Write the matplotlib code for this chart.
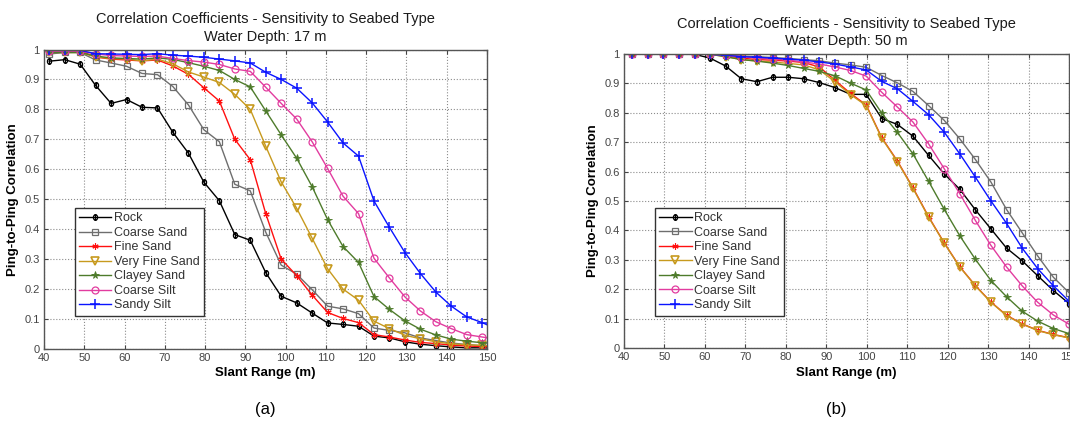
import numpy as np
import matplotlib.pyplot as plt
from matplotlib.path import Path

plt.rcParams['font.family'] = ['Liberation Sans', 'DejaVu Sans']

# slant range sample positions (m)
range_17 = 41.3 + 3.84 * np.arange(30)
range_50 = np.linspace(42.0, 150.0, 29)

# water depth 17 m
rock_17 = [0.961, 0.966, 0.951, 0.880, 0.820, 0.833, 0.807, 0.805, 0.723, 0.654,
           0.557, 0.495, 0.382, 0.363, 0.255, 0.176, 0.154, 0.120, 0.087, 0.082,
           0.076, 0.043, 0.037, 0.024, 0.016, 0.011, 0.007, 0.004, 0.004, 0.003]
coarse_sand_17 = [0.985, 0.990, 0.990, 0.965, 0.955, 0.944, 0.920, 0.916, 0.876, 0.815,
                  0.732, 0.692, 0.550, 0.528, 0.390, 0.280, 0.250, 0.198, 0.143, 0.134,
                  0.118, 0.070, 0.062, 0.054, 0.037, 0.028, 0.020, 0.015, 0.011, 0.009]
fine_sand_17 = [0.995, 0.995, 0.995, 0.975, 0.968, 0.965, 0.962, 0.965, 0.945, 0.917,
                0.872, 0.828, 0.700, 0.632, 0.452, 0.300, 0.245, 0.180, 0.122, 0.102,
                0.088, 0.048, 0.040, 0.030, 0.022, 0.018, 0.013, 0.010, 0.008, 0.007]
very_fine_sand_17 = [0.990, 0.990, 0.990, 0.975, 0.970, 0.968, 0.962, 0.968, 0.952, 0.925,
                     0.908, 0.890, 0.850, 0.800, 0.677, 0.558, 0.470, 0.370, 0.268, 0.200,
                     0.163, 0.093, 0.068, 0.046, 0.034, 0.024, 0.017, 0.014, 0.012, 0.010]
clayey_sand_17 = [0.990, 0.990, 0.990, 0.978, 0.972, 0.970, 0.968, 0.972, 0.967, 0.956,
                  0.944, 0.930, 0.900, 0.875, 0.795, 0.715, 0.637, 0.542, 0.432, 0.342,
                  0.289, 0.175, 0.132, 0.094, 0.066, 0.047, 0.033, 0.026, 0.021, 0.017]
coarse_silt_17 = [0.995, 0.995, 0.995, 0.985, 0.980, 0.978, 0.977, 0.978, 0.970, 0.963,
                  0.958, 0.950, 0.935, 0.927, 0.874, 0.820, 0.768, 0.692, 0.603, 0.510,
                  0.452, 0.303, 0.237, 0.174, 0.127, 0.091, 0.068, 0.048, 0.040, 0.032]
sandy_silt_17 = [0.997, 0.997, 0.997, 0.986, 0.985, 0.984, 0.983, 0.986, 0.981, 0.978,
                 0.974, 0.968, 0.962, 0.955, 0.924, 0.900, 0.871, 0.822, 0.758, 0.688,
                 0.644, 0.494, 0.406, 0.322, 0.252, 0.190, 0.143, 0.107, 0.088, 0.065]

# water depth 50 m
rock_50 = [0.998, 0.998, 0.998, 0.998, 0.998, 0.985, 0.958, 0.915, 0.905, 0.920,
           0.920, 0.915, 0.902, 0.885, 0.862, 0.862, 0.780, 0.760, 0.720, 0.655,
           0.592, 0.540, 0.470, 0.405, 0.340, 0.297, 0.246, 0.196, 0.152]
coarse_sand_50 = [0.998, 0.998, 0.998, 0.998, 0.998, 0.998, 0.996, 0.992, 0.990, 0.987,
                  0.984, 0.980, 0.976, 0.968, 0.962, 0.954, 0.926, 0.901, 0.872, 0.824,
                  0.774, 0.711, 0.641, 0.564, 0.471, 0.392, 0.313, 0.241, 0.189]
fine_sand_50 = [0.998, 0.998, 0.998, 0.998, 0.998, 0.998, 0.992, 0.985, 0.980, 0.978,
                0.975, 0.970, 0.955, 0.910, 0.865, 0.826, 0.715, 0.636, 0.545, 0.447,
                0.358, 0.277, 0.213, 0.157, 0.112, 0.083, 0.061, 0.047, 0.036]
very_fine_sand_50 = [0.998, 0.998, 0.998, 0.998, 0.998, 0.998, 0.990, 0.980, 0.975, 0.972,
                     0.967, 0.962, 0.945, 0.905, 0.861, 0.824, 0.713, 0.634, 0.543, 0.445,
                     0.357, 0.276, 0.212, 0.156, 0.111, 0.082, 0.060, 0.046, 0.035]
clayey_sand_50 = [0.998, 0.998, 0.998, 0.998, 0.998, 0.998, 0.990, 0.980, 0.975, 0.968,
                  0.960, 0.950, 0.940, 0.925, 0.900, 0.877, 0.798, 0.733, 0.660, 0.567,
                  0.472, 0.382, 0.302, 0.230, 0.175, 0.126, 0.092, 0.067, 0.050]
coarse_silt_50 = [0.998, 0.998, 0.998, 0.998, 0.998, 0.998, 0.995, 0.990, 0.985, 0.982,
                  0.978, 0.972, 0.965, 0.955, 0.943, 0.924, 0.869, 0.819, 0.768, 0.694,
                  0.610, 0.525, 0.434, 0.349, 0.276, 0.212, 0.156, 0.113, 0.082]
sandy_silt_50 = [0.998, 0.998, 0.998, 0.998, 0.998, 0.998, 0.995, 0.990, 0.988, 0.985,
                 0.982, 0.978, 0.972, 0.965, 0.955, 0.945, 0.906, 0.881, 0.838, 0.793,
                 0.734, 0.660, 0.581, 0.500, 0.424, 0.340, 0.270, 0.212, 0.160]

seabeds = ['Rock', 'Coarse Sand', 'Fine Sand', 'Very Fine Sand',
           'Clayey Sand', 'Coarse Silt', 'Sandy Silt']

# circle with a vertical bar through it, for the rock curve
ring = Path.unit_circle()
ring = Path(ring.vertices * [0.75, 1.0], ring.codes)
bar = Path([(0, -1.25), (0, 1.25)], [Path.MOVETO, Path.LINETO])
rock_marker = Path.make_compound_path(ring, bar)

styles = [
    dict(color='black', marker=rock_marker, ms=5, mfc='none', mew=0.9),
    dict(color='#6e6e6e', marker='s', ms=5, mfc='none', mew=0.9),
    dict(color='#ff1010', marker=(6, 2, 0), ms=4.5, mew=0.8),
    dict(color='#c79a1e', marker='v', ms=6, mfc='none', mew=1.2),
    dict(color='#4e7b2b', marker='*', ms=5.5, mew=0.6),
    dict(color='#e23c9f', marker='o', ms=5, mfc='none', mew=0.9),
    dict(color='#0a14ff', marker='+', ms=7, mew=1.1),
]


def draw_panel(ax, x, series, depth):
    for name, y, st in zip(seabeds, series, styles):
        ax.plot(x, y, lw=1.0, label=name, **st)
    ax.set_xlim(40, 150)
    ax.set_ylim(0, 1)
    ax.set_xticks(np.arange(40, 151, 10))
    ax.set_yticks(np.arange(0, 1.01, 0.1))
    ax.set_yticklabels(['0', '0.1', '0.2', '0.3', '0.4', '0.5',
                        '0.6', '0.7', '0.8', '0.9', '1'])
    ax.grid(True, linestyle=':', color='#8c8c8c', linewidth=0.8)
    ax.tick_params(direction='in', length=3, labelsize=8, colors='#444444',
                   top=True, right=True, pad=3)
    for sp in ax.spines.values():
        sp.set_color('#555555')
        sp.set_linewidth(1.0)
    ax.set_title('Correlation Coefficients - Sensitivity to Seabed Type\n'
                 'Water Depth: %d m' % depth, fontsize=10.5, color='#1a1a1a',
                 linespacing=1.35, pad=6)
    ax.set_xlabel('Slant Range (m)', fontsize=9.5, fontweight='bold', labelpad=3)
    ax.set_ylabel('Ping-to-Ping Correlation', fontsize=9.5, fontweight='bold', labelpad=4)
    leg = ax.legend(loc='lower left', bbox_to_anchor=(0.055, 0.09), fontsize=9,
                    handlelength=2.6, handletextpad=0.2, labelspacing=0.2,
                    borderpad=0.35, fancybox=False, framealpha=1,
                    edgecolor='#333333', labelcolor='#333333')
    leg.get_frame().set_linewidth(1.0)


fig = plt.figure(figsize=(10.7, 4.29), dpi=100)
ax1 = fig.add_axes([44 / 1070, 80 / 429, 443 / 1070, 299.5 / 429])
ax2 = fig.add_axes([624 / 1070, 80.7 / 429, 445 / 1070, 294.6 / 429])

draw_panel(ax1, range_17, [rock_17, coarse_sand_17, fine_sand_17, very_fine_sand_17,
                           clayey_sand_17, coarse_silt_17, sandy_silt_17], 17)
draw_panel(ax2, range_50, [rock_50, coarse_sand_50, fine_sand_50, very_fine_sand_50,
                           clayey_sand_50, coarse_silt_50, sandy_silt_50], 50)

fig.text(0.248, 0.035, '(a)', fontsize=12, ha='center')
fig.text(0.782, 0.035, '(b)', fontsize=12, ha='center')

fig.savefig('out.png', dpi=100, facecolor='white')
